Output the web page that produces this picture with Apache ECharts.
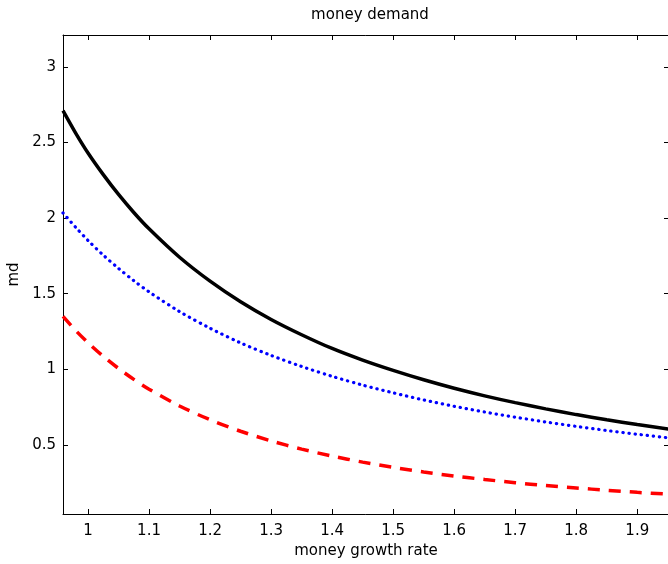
<!DOCTYPE html>
<html>
<head>
<meta charset="utf-8">
<script src="https://cdn.jsdelivr.net/npm/echarts@6/dist/echarts.min.js"></script>
<style>
  html, body { margin: 0; padding: 0; background: #fff; }
  #chart { width: 668px; height: 564px; }
</style>
</head>
<body>
<div id="chart"></div>
<script>
// money growth rate samples
var growthRate = [0.959, 0.98, 1.0, 1.025, 1.05, 1.075, 1.1, 1.15, 1.2, 1.25, 1.3, 1.35,
                  1.4, 1.45, 1.5, 1.55, 1.6, 1.65, 1.7, 1.75, 1.8, 1.85, 1.9, 1.952];
// money demand curves
var mdSolid  = [2.710, 2.560, 2.430, 2.287, 2.156, 2.037, 1.929, 1.741, 1.583, 1.447, 1.330, 1.229,
                1.138, 1.061, 0.993, 0.931, 0.875, 0.825, 0.780, 0.739, 0.701, 0.667, 0.635, 0.605];
var mdDotted = [2.034, 1.938, 1.852, 1.755, 1.667, 1.586, 1.512, 1.382, 1.272, 1.175, 1.092, 1.019,
                0.954, 0.896, 0.845, 0.798, 0.756, 0.718, 0.684, 0.652, 0.623, 0.596, 0.571, 0.547];
var mdDashed = [1.350, 1.256, 1.176, 1.086, 1.006, 0.934, 0.869, 0.758, 0.667, 0.591, 0.527, 0.473,
                0.427, 0.387, 0.352, 0.322, 0.295, 0.272, 0.251, 0.232, 0.216, 0.201, 0.187, 0.175];
// tick positions
var xTicks = [1, 1.1, 1.2, 1.3, 1.4, 1.5, 1.6, 1.7, 1.8, 1.9];
var yTicks = [0.5, 1, 1.5, 2, 2.5, 3];

var FONT = 'DejaVu Sans';
var FS = 15;

function pairs(xs, ys) {
  return xs.map(function (x, i) { return [x, ys[i]]; });
}

var xRange = { min: 0.959, max: 1.952 };
var yRange = { min: 0.044, max: 3.21 };

function xAxis(pos, labels) {
  return {
    type: 'value', position: pos, min: xRange.min, max: xRange.max,
    axisLine: { show: true, onZero: false, lineStyle: { color: '#000', width: 1 } },
    axisTick: { show: true, inside: true, length: 5, customValues: xTicks, lineStyle: { color: '#000', width: 1 } },
    axisLabel: { show: labels, customValues: xTicks, margin: 10, color: '#000', fontFamily: FONT, fontSize: FS },
    splitLine: { show: false }
  };
}
function yAxis(pos, labels) {
  return {
    type: 'value', position: pos, min: yRange.min, max: yRange.max,
    axisLine: { show: true, onZero: false, lineStyle: { color: '#000', width: 1 } },
    axisTick: { show: true, inside: true, length: 5, customValues: yTicks, lineStyle: { color: '#000', width: 1 } },
    axisLabel: { show: labels, customValues: yTicks, margin: 7, color: '#000', fontFamily: FONT, fontSize: FS },
    splitLine: { show: false }
  };
}

var bottomX = xAxis('bottom', true);
bottomX.name = 'money growth rate';
bottomX.nameLocation = 'middle';
bottomX.nameGap = 28;
bottomX.nameTextStyle = { color: '#000', fontFamily: FONT, fontSize: FS };

var leftY = yAxis('left', true);
leftY.name = 'md';
leftY.nameLocation = 'middle';
leftY.nameGap = 41;
leftY.nameTextStyle = { color: '#000', fontFamily: FONT, fontSize: FS };

function curve(values, style) {
  return {
    type: 'line', data: pairs(growthRate, values),
    smooth: 0.3, symbol: 'none',
    lineStyle: style
  };
}

var chart = echarts.init(document.getElementById('chart'), null, { renderer: 'canvas' });
chart.setOption({
  backgroundColor: '#fff',
  animation: false,
  title: {
    text: 'money demand', left: 365, top: 3, textAlign: 'center',
    textStyle: { color: '#000', fontFamily: FONT, fontSize: FS, fontWeight: 'normal' }
  },
  grid: { left: 63, right: -1, top: 35, bottom: 50, containLabel: false, outerBoundsMode: 'none' },
  xAxis: [bottomX, xAxis('top', false)],
  yAxis: [leftY, yAxis('right', false)],
  series: [
    curve(mdSolid,  { color: '#000000', width: 3.5 }),
    curve(mdDotted, { color: '#0000ff', width: 3.2, type: [0.3, 5.8], cap: 'round' }),
    curve(mdDashed, { color: '#ff0000', width: 3.5, type: [12, 9] })
  ]
});
</script>
</body>
</html>
